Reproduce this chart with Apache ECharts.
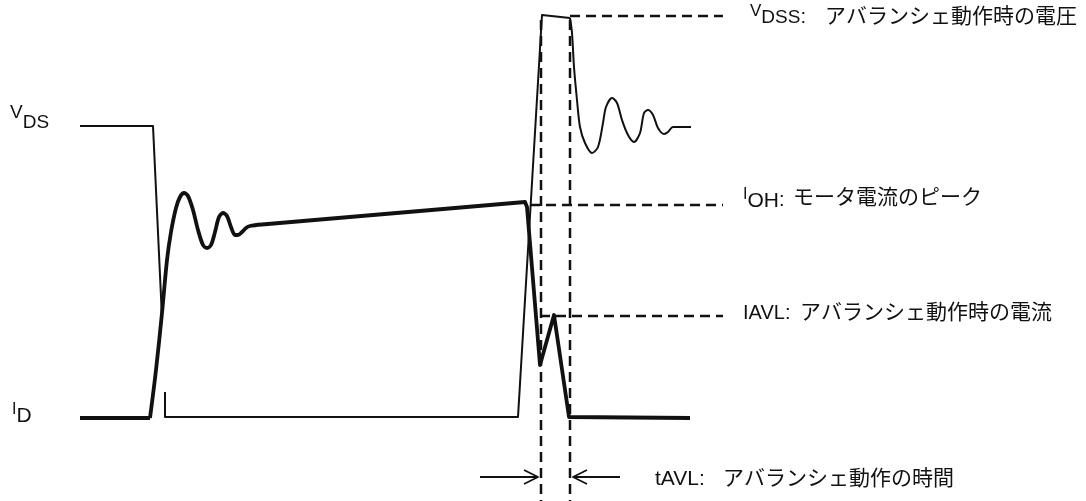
<!DOCTYPE html>
<html>
<head>
<meta charset="utf-8">
<script src="https://cdn.jsdelivr.net/npm/echarts@6/dist/echarts.min.js"></script>
<style>
html,body{margin:0;padding:0;background:#fff;}
#chart{width:1086px;height:501px;}
</style>
</head>
<body>
<div id="chart"></div>
<script>
// ---- data (time, level), y grows downward ----
const vdsSharp = [[80,126],[153,126],[162,318],null,[165,392],[165,417],[518,417],[542,15],[570,18]];
const vdsRing = [[570,18],[572,33],[574,67],[577,100],[580,127],[585,143],[592,153],[598,147],[603,123],[606,107],[612,98],[617,103],[622,120],[628,135],[634,142],[640,133],[644,113],[648,110],[653,115],[658,128],[664,134],[668,132],[673,127],[691,127]];
const idStart = [[80,418],[150,418]];
const idRing = [[150,418],[156,370],[162,313],[167,260],[171,232],[176,208],[180,197],[184,193],[188,196],[193,210],[198,230],[203,245],[207,248],[211,245],[215,232],[219,217],[223,213],[227,216],[231,227],[235,235],[238,235],[242,232],[246,228],[250,226],[262,224.5]];
const idRest = [[262,224.5],[525,202],[527,207],[540,365],[554,315],[569,417],[690,418]];
const vdssLine = [[570,16],[723,16]];
const iohLine = [[530,205],[723,205]];
const iavlLine = [[540,316],[723,316]];
const tLeftLine = [[541,20],[541,501]];
const tRightLine = [[570,20],[570,501]];
const arrowL = [[480,477],[538,477]];
const arrowLHead = [[524,470],[538,477],[524,484]];
const arrowR = [[573,477],[620,477]];
const arrowRHead = [[587,470],[573,477],[587,484]];

const FONT = '"Liberation Sans","Noto Sans CJK JP",sans-serif';
// label pieces: [text, fontSize, centerY]
const labels = [
  {x:10, parts:[['V',19,113],['DS',19,123]]},
  {x:12, parts:[['I',16,410],['D',21,416]]},
  {x:750, parts:[['V',17,11],['DSS',19,18],[': ',20,17]], jx:825, jp:'アバランシェ動作時の電圧', jy:17},
  {x:743, parts:[['I',16,195],['OH',21,201],[': ',20,200]], jx:793, jp:'モータ電流のピーク', jy:198},
  {x:743, parts:[['IAVL: ',20,313]], jx:800, jp:'アバランシェ動作時の電流', jy:313},
  {x:655, parts:[['tAVL: ',21,479]], jx:723, jp:'アバランシェ動作の時間', jy:479}
];

const ctx = document.createElement('canvas').getContext('2d');
function tw(t, s){ ctx.font = s + 'px ' + FONT; return ctx.measureText(t).width; }
const graphics = [];
labels.forEach(l => {
  let x = l.x;
  l.parts.forEach(p => {
    graphics.push({type:'text', x:x, y:p[2], silent:true,
      style:{text:p[0], fontSize:p[1], fontFamily:FONT, fill:'#111', align:'left', verticalAlign:'middle'}});
    x += tw(p[0], p[1]);
  });
  if (l.jp) {
    graphics.push({type:'text', x:l.jx, y:l.jy, silent:true,
      style:{text:l.jp, fontSize:21, fontFamily:FONT, fill:'#111', align:'left', verticalAlign:'middle'}});
  }
});

function ser(data, width, opts) {
  return Object.assign({type:'line', data:data, symbol:'none', showSymbol:false, silent:true,
    animation:false, clip:false, connectNulls:false,
    lineStyle:{color:'#111', width:width, join:'round', cap:'butt'}}, opts || {});
}
const dash = {color:'#111', width:2.5, type:[10,6]};

const chart = echarts.init(document.getElementById('chart'));
chart.setOption({
  backgroundColor:'#fff',
  animation:false,
  grid:{left:0, right:0, top:0, bottom:0},
  xAxis:{type:'value', min:0, max:1086, show:false},
  yAxis:{type:'value', min:0, max:501, inverse:true, show:false},
  series:[
    ser(vdssLine, 2.5, {lineStyle:dash}),
    ser(iohLine, 2.5, {lineStyle:dash}),
    ser(iavlLine, 2.5, {lineStyle:dash}),
    ser(tLeftLine, 2.5, {lineStyle:dash}),
    ser(tRightLine, 2.5, {lineStyle:dash}),
    ser(vdsSharp, 2),
    ser(vdsRing, 2, {smooth:0.3}),
    ser(idStart, 3.8),
    ser(idRing, 3.8, {smooth:0.3}),
    ser(idRest, 3.8),
    ser(arrowL, 1.8),
    ser(arrowLHead, 1.8),
    ser(arrowR, 1.8),
    ser(arrowRHead, 1.8)
  ],
  graphic: graphics
});
</script>
</body>
</html>
